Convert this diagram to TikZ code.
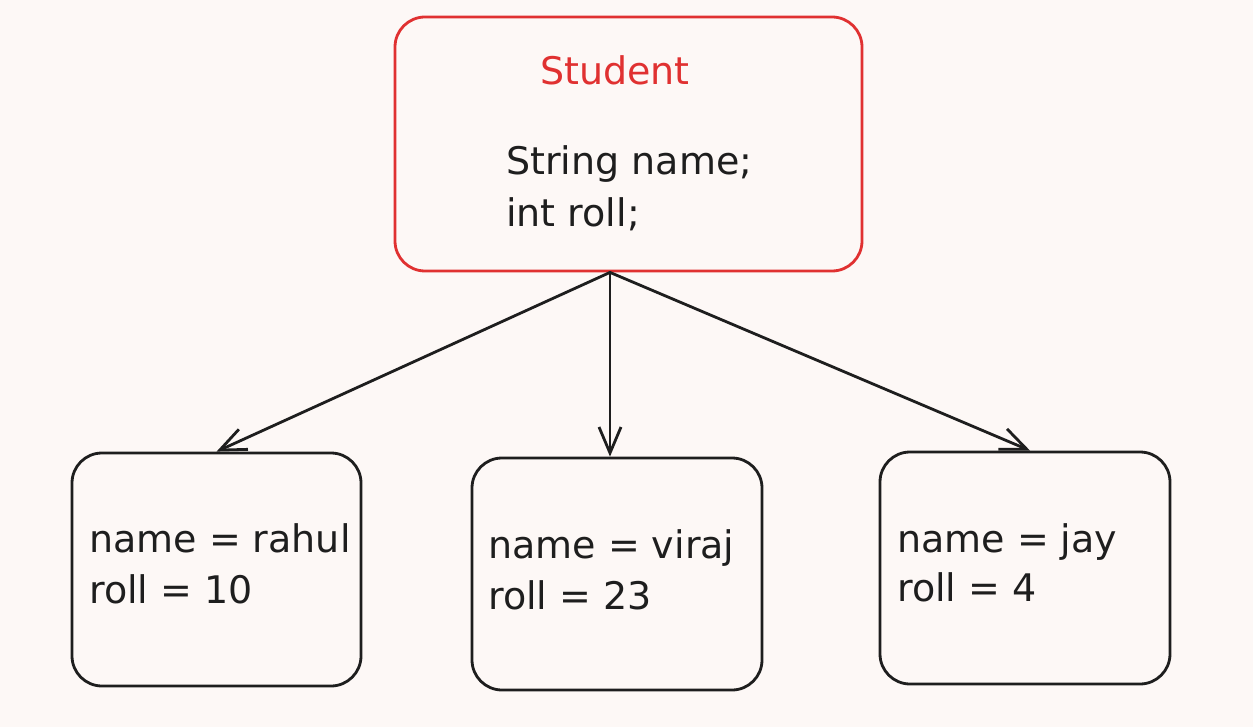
\documentclass[tikz,border=0pt]{standalone}
\usepackage{fontspec}
\setmainfont{DejaVu Sans}
\usetikzlibrary{arrows.meta}
\definecolor{exred}{HTML}{E03131}
\definecolor{exink}{HTML}{1E1E1E}
\definecolor{expaper}{HTML}{FDF8F6}

\begin{document}
\begin{tikzpicture}[x=1pt, y=-1pt,
  objbox/.style={draw=exink, line width=2.8pt, rounded corners=30pt, inner sep=0pt},
  lbl/.style={anchor=base west, inner sep=0pt, text=exink, font=\fontsize{38}{44}\selectfont},
  link/.style={draw=exink, line width=2.8pt, line cap=round, -{Straight Barb[length=26pt, width=22pt, line width=2.8pt]}}]
\fill [expaper] (0, 0) rectangle (1253, 727);

\node [objbox, draw=exred, minimum width=467pt, minimum height=254pt] (student) at (628.5, 144) {};
\node [lbl, anchor=base, text=exred] (title) at (615, 85) {Student};
\node [lbl] (field1) at (506, 175) {String name;};
\node [lbl] (field2) at (506, 227) {int roll;};

\node [objbox, minimum width=289pt, minimum height=233pt] (rahul) at (216.5, 569.5) {};
\node [lbl] (rahul1) at (89, 552) {name = rahul};
\node [lbl] (rahul2) at (89, 603) {roll = 10};

\node [objbox, minimum width=290pt, minimum height=232pt] (viraj) at (617, 574) {};
\node [lbl] (viraj1) at (488, 558) {name = viraj};
\node [lbl] (viraj2) at (488, 609) {roll = 23};

\node [objbox, minimum width=290pt, minimum height=232pt] (jay) at (1025, 568) {};
\node [lbl] (jay1) at (897, 552) {name = jay};
\node [lbl] (jay2) at (897, 601) {roll = 4};

\coordinate (fork) at ([xshift=-18.5pt]student.south);
\draw [link] (fork) -- (rahul.north);
\draw [link] (fork) -- ([xshift=-7pt]viraj.north);
\draw [link] (fork) -- ([xshift=5pt]jay.north);
\end{tikzpicture}
\end{document}
